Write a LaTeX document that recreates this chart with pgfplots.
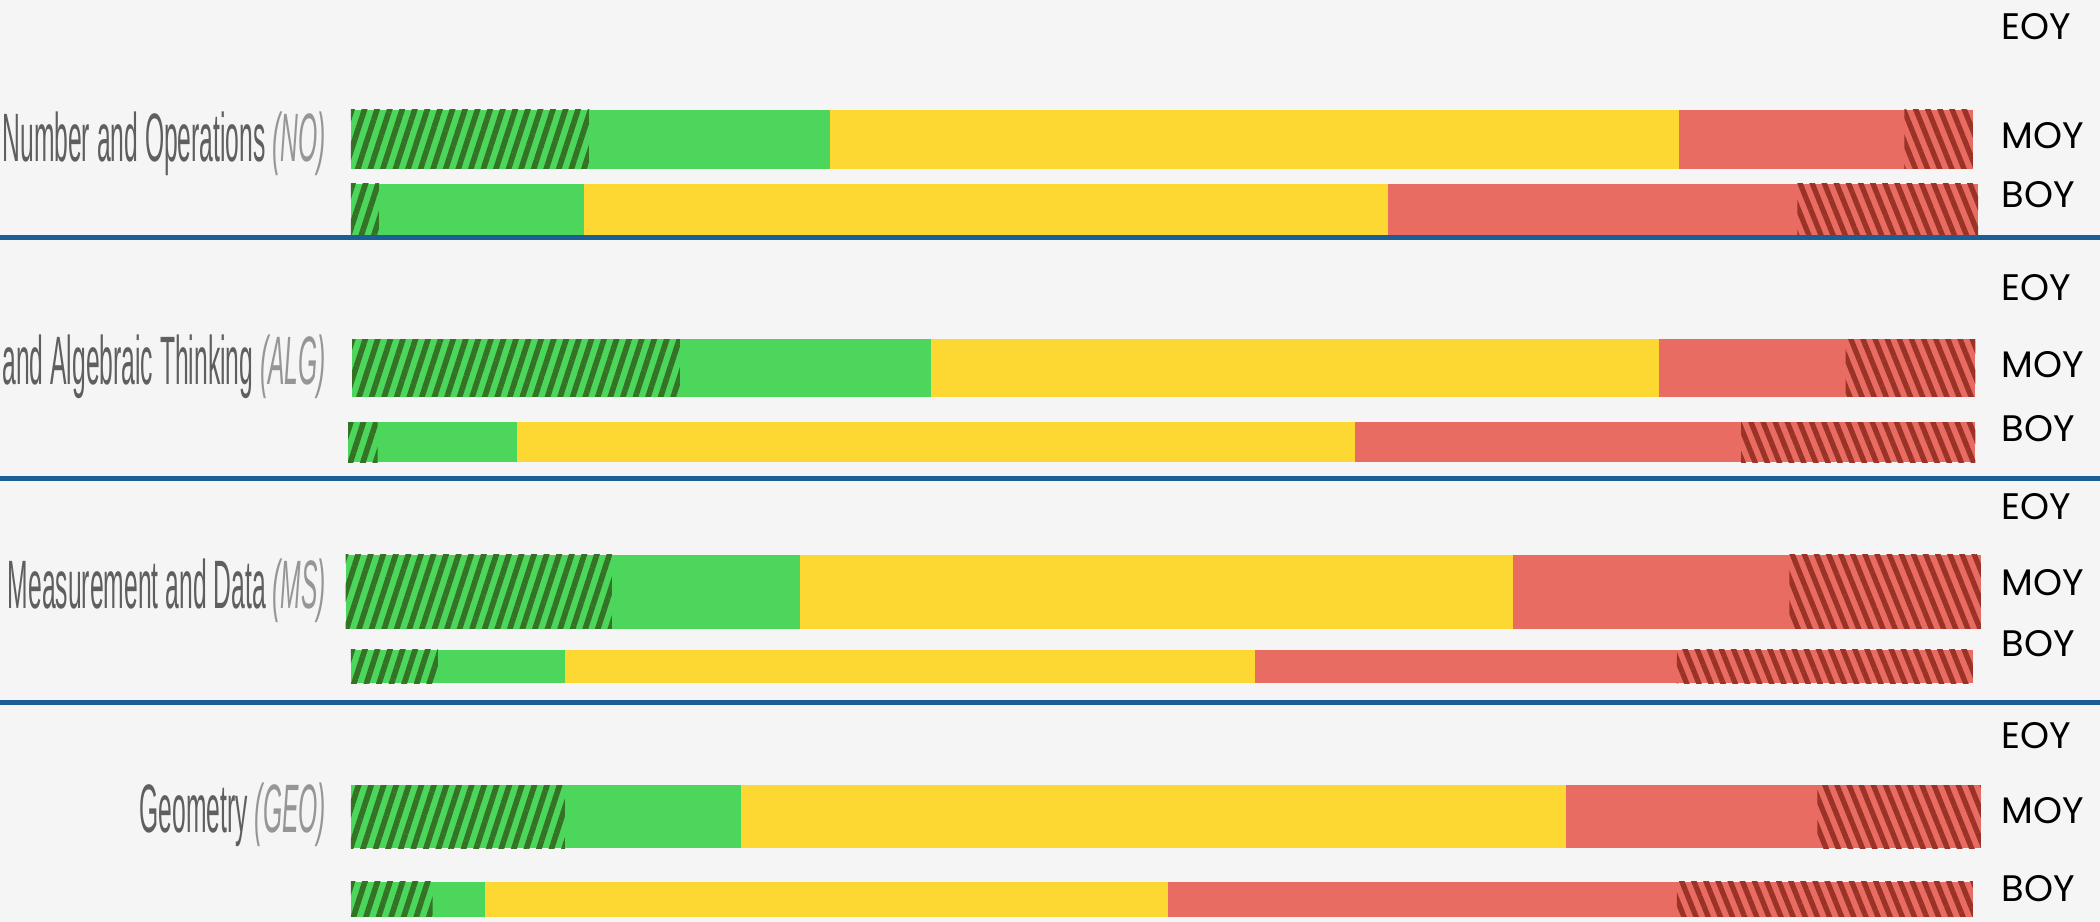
\documentclass[border=0pt]{standalone}
\usepackage{pgfplots}
\pgfplotsset{compat=1.18}
\usetikzlibrary{patterns.meta}
\usepackage{fontspec}
\setmainfont{Liberation Sans}
\newfontfamily\lblfont[FakeStretch=0.36]{Liberation Sans}
\newfontfamily\tagfont{Poppins}

\definecolor{bgcol}{RGB}{246,245,246}
\definecolor{cgreen}{RGB}{76,215,92}
\definecolor{cdkgreen}{RGB}{52,115,38}
\definecolor{cyellow}{RGB}{253,216,50}
\definecolor{cred}{RGB}{232,108,98}
\definecolor{cdkred}{RGB}{155,50,40}
\definecolor{sepblue}{RGB}{28,95,150}
\definecolor{lblgray}{RGB}{95,95,95}
\definecolor{lblit}{RGB}{150,150,150}

\tikzset{
  hg/.style={fill=cgreen, draw=none, postaction={pattern={Lines[angle=72,distance=3.4pt,line width=1.6pt]}, pattern color=cdkgreen}},
  sg/.style={fill=cgreen, draw=none},
  sy/.style={fill=cyellow, draw=none},
  sr/.style={fill=cred, draw=none},
  hr/.style={fill=cred, draw=none, postaction={pattern={Lines[angle=-68,distance=3.2pt,line width=1.5pt]}, pattern color=cdkred}},
  catlbl/.style={anchor=east, inner sep=0pt, text=lblgray, font=\lblfont\fontsize{19.5}{23}\selectfont},
  taglbl/.style={anchor=west, inner sep=0pt, text=black, font=\tagfont\fontsize{10.5}{12}\selectfont},
}

% #1 top, #2 bottom, #3..#8 segment boundaries
\newcommand\segrow[8]{%
  \addplot[hg] coordinates {(#3,#1) (#4,#1) (#4,#2) (#3,#2)} -- cycle;
  \addplot[sg] coordinates {(#4,#1) (#5,#1) (#5,#2) (#4,#2)} -- cycle;
  \addplot[sy] coordinates {(#5,#1) (#6,#1) (#6,#2) (#5,#2)} -- cycle;
  \addplot[sr] coordinates {(#6,#1) (#7,#1) (#7,#2) (#6,#2)} -- cycle;
  \addplot[hr] coordinates {(#7,#1) (#8,#1) (#8,#2) (#7,#2)} -- cycle;
}

\begin{document}
\begin{tikzpicture}
\begin{axis}[
  at={(0,0)}, anchor=south west,
  scale only axis, width=21cm, height=9.22cm,
  xmin=0, xmax=1568, ymin=0, ymax=688, y dir=reverse,
  axis line style={draw=none}, xtick=\empty, ytick=\empty,
  axis background/.style={fill=bgcol},
  clip=false,
]
% Number and Operations (NO)
\segrow{82}{126}{262}{440}{620}{1254}{1422}{1473}
\segrow{137}{175}{262}{283}{436}{1036}{1342}{1477}
% Algebraic Thinking (ALG)
\segrow{253}{296}{263}{508}{695}{1239}{1378}{1475}
\segrow{315}{345}{260}{282}{386}{1012}{1300}{1475}
% Measurement and Data (MS)
\segrow{414}{469}{258}{457}{597}{1130}{1336}{1479}
\segrow{485}{510}{262}{327}{422}{937}{1252}{1473}
% Geometry (GEO)
\segrow{586}{633}{262}{422}{553}{1169}{1357}{1479}
\segrow{658}{684}{262}{323}{362}{872}{1252}{1473}

\draw[sepblue, line width=1.4pt] (axis cs:0,177) -- (axis cs:1568,177);
\draw[sepblue, line width=1.4pt] (axis cs:0,357) -- (axis cs:1568,357);
\draw[sepblue, line width=1.4pt] (axis cs:0,524) -- (axis cs:1568,524);

\node[catlbl] at (axis cs:244,107) {Number and Operations {\itshape\color{lblit}(NO)}};
\node[catlbl] at (axis cs:244,274) {and Algebraic Thinking {\itshape\color{lblit}(ALG)}};
\node[catlbl] at (axis cs:244,441) {Measurement and Data {\itshape\color{lblit}(MS)}};
\node[catlbl] at (axis cs:244,608) {Geometry {\itshape\color{lblit}(GEO)}};

\node[taglbl] at (axis cs:1494,20) {EOY};
\node[taglbl] at (axis cs:1494,101) {MOY};
\node[taglbl] at (axis cs:1494,145) {BOY};
\node[taglbl] at (axis cs:1494,215) {EOY};
\node[taglbl] at (axis cs:1494,272) {MOY};
\node[taglbl] at (axis cs:1494,320) {BOY};
\node[taglbl] at (axis cs:1494,378) {EOY};
\node[taglbl] at (axis cs:1494,435) {MOY};
\node[taglbl] at (axis cs:1494,480) {BOY};
\node[taglbl] at (axis cs:1494,549) {EOY};
\node[taglbl] at (axis cs:1494,605) {MOY};
\node[taglbl] at (axis cs:1494,663) {BOY};
\end{axis}
\pgfresetboundingbox
\path[use as bounding box] (0,0) rectangle (21cm,9.22cm);
\end{tikzpicture}
\end{document}
